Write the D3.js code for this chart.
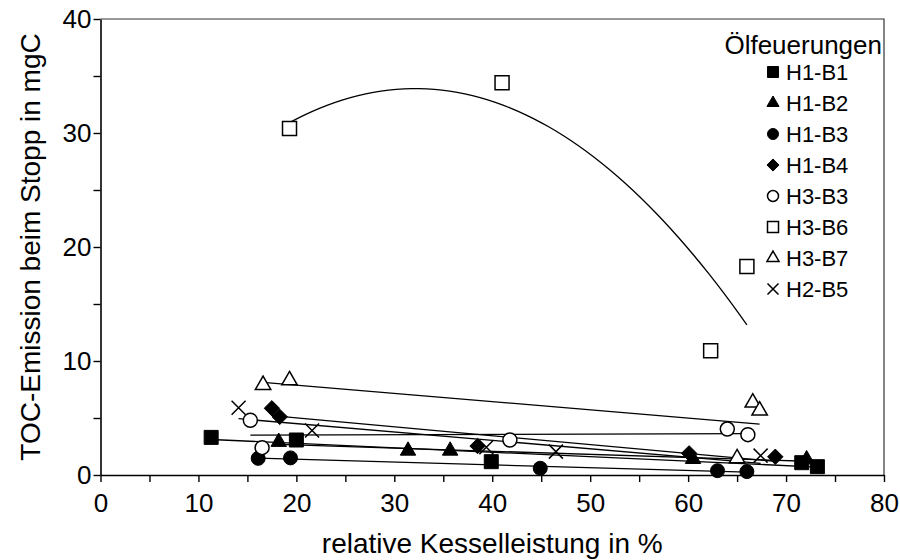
<!DOCTYPE html>
<html>
<head>
<meta charset="utf-8">
<script src="https://cdn.jsdelivr.net/npm/d3@7"></script>
<style>
  body { margin: 0; background: #fff; }
  text { font-family: "Liberation Sans", Arial, sans-serif; fill: #000; }
</style>
</head>
<body>
<div id="chart"></div>
<script>
// measured values, x = relative Kesselleistung (%), y = TOC in mgC
var h1b1X = [11.3, 20.0, 39.9, 71.6, 73.2];
var h1b1Y = [3.3, 3.07, 1.17, 1.08, 0.73];
var h1b2X = [18.2, 31.4, 35.7, 60.5, 72.1];
var h1b2Y = [2.9, 2.13, 2.13, 1.4, 1.37];
var h1b3X = [16.1, 19.4, 44.9, 63.0, 66.0];
var h1b3Y = [1.46, 1.5, 0.59, 0.38, 0.3];
var h1b4X = [17.5, 18.3, 38.5, 60.1, 68.9];
var h1b4Y = [5.85, 5.1, 2.54, 1.9, 1.6];
var h3b3X = [15.3, 16.5, 41.8, 64.0, 66.1];
var h3b3Y = [4.8, 2.4, 3.07, 4.03, 3.54];
var h3b6X = [19.3, 41.0, 62.3, 66.0];
var h3b6Y = [30.4, 34.4, 10.9, 18.3];
var h3b7X = [16.6, 19.3, 65.0, 66.6, 67.3];
var h3b7Y = [7.9, 8.3, 1.46, 6.35, 5.65];
var h2b5X = [14.1, 21.6, 39.4, 46.5, 67.4];
var h2b5Y = [5.9, 3.9, 2.43, 2.05, 1.7];

var seriesNames = ["H1-B1", "H1-B2", "H1-B3", "H1-B4", "H3-B3", "H3-B6", "H3-B7", "H2-B5"];
var xTicks = [0, 10, 20, 30, 40, 50, 60, 70, 80];
var yTicks = [0, 10, 20, 30, 40];
var legendTitle = "Ölfeuerungen";
var xTitle = "relative Kesselleistung in %";
var yTitle = "TOC-Emission beim Stopp in mgC";

var series = [
  { name: seriesNames[0], x: h1b1X, y: h1b1Y, shape: "square", fill: true, fit: 1 },
  { name: seriesNames[1], x: h1b2X, y: h1b2Y, shape: "triangle", fill: true, fit: 1 },
  { name: seriesNames[2], x: h1b3X, y: h1b3Y, shape: "circle", fill: true, fit: 1 },
  { name: seriesNames[3], x: h1b4X, y: h1b4Y, shape: "diamond", fill: true, fit: 1 },
  { name: seriesNames[4], x: h3b3X, y: h3b3Y, shape: "circle", fill: false, fit: 1 },
  { name: seriesNames[5], x: h3b6X, y: h3b6Y, shape: "square", fill: false, fit: 2 },
  { name: seriesNames[6], x: h3b7X, y: h3b7Y, shape: "triangle", fill: false, fit: 1 },
  { name: seriesNames[7], x: h2b5X, y: h2b5Y, shape: "cross", fill: false, fit: 1 }
];

var margin = { top: 19, right: 16, bottom: 85, left: 100.5 },
  width = 900 - margin.left - margin.right,
  height = 560 - margin.top - margin.bottom;

var svg = d3.select("#chart")
  .append("svg")
  .attr("width", 900)
  .attr("height", 560)
  .append("g")
  .attr("transform", "translate(" + margin.left + "," + margin.top + ")");

var x = d3.scaleLinear().domain([0, 80]).range([0, width]);
var y = d3.scaleLinear().domain([0, 40]).range([height, 0]);

// frame (top + right)
svg.append("path")
  .attr("d", "M0,0H" + width + "V" + height)
  .style("fill", "none")
  .style("stroke", "#333")
  .style("stroke-width", 1.2);

// axes: ticks every 5, labels every 10
var xAxis = svg.append("g")
  .attr("transform", "translate(0," + height + ")")
  .call(d3.axisBottom(x).tickValues(d3.range(0, 81, 5)).tickSize(7).tickSizeOuter(0)
    .tickFormat(function (d) { return xTicks.indexOf(d) >= 0 ? d : ""; }));
var yAxis = svg.append("g")
  .call(d3.axisLeft(y).tickValues(d3.range(0, 41, 5)).tickSize(7).tickSizeOuter(0)
    .tickFormat(function (d) { return yTicks.indexOf(d) >= 0 ? d : ""; }));

[xAxis, yAxis].forEach(function (a) {
  a.select(".domain").style("stroke", "#000").style("stroke-width", 1.6);
  a.selectAll(".tick line").style("stroke", "#000").style("stroke-width", 1.4);
  a.selectAll(".tick text").style("font-size", "26px")
    .style("font-family", "'Liberation Sans', Arial, sans-serif");
});
xAxis.selectAll(".tick text").attr("y", 19);
yAxis.selectAll(".tick text").attr("x", -9);

svg.append("text")
  .attr("x", width / 2)
  .attr("y", height + 78)
  .style("text-anchor", "middle")
  .style("font-size", "28px")
  .text(xTitle);

svg.append("text")
  .attr("transform", "translate(" + (-61) + "," + (height / 2) + ") rotate(-90)")
  .style("text-anchor", "middle")
  .style("font-size", "28px")
  .text(yTitle);

// least squares polynomial fit (trend lines as in the original)
function polyFit(xs, ys, deg) {
  var n = deg + 1, A = [], b = [];
  for (var i = 0; i < n; i++) {
    A.push([]);
    for (var j = 0; j < n; j++) A[i].push(d3.sum(xs, function (v) { return Math.pow(v, i + j); }));
    b.push(d3.sum(xs, function (v, k) { return Math.pow(v, i) * ys[k]; }));
  }
  for (var c = 0; c < n; c++) {
    for (var r = c + 1; r < n; r++) {
      var f = A[r][c] / A[c][c];
      for (var k = c; k < n; k++) A[r][k] -= f * A[c][k];
      b[r] -= f * b[c];
    }
  }
  var coef = new Array(n);
  for (var r2 = n - 1; r2 >= 0; r2--) {
    var s = b[r2];
    for (var k2 = r2 + 1; k2 < n; k2++) s -= A[r2][k2] * coef[k2];
    coef[r2] = s / A[r2][r2];
  }
  return function (v) { return d3.sum(coef, function (cf, p) { return cf * Math.pow(v, p); }); };
}

var line = d3.line()
  .x(function (d) { return x(d); });

series.forEach(function (s) {
  var f = polyFit(s.x, s.y, s.fit);
  var ext = d3.extent(s.x);
  var xs = s.fit === 1 ? ext : d3.range(0, 61).map(function (i) { return ext[0] + (ext[1] - ext[0]) * i / 60; });
  svg.append("path")
    .attr("class", "trend")
    .attr("d", line.y(function (d) { return y(f(d)); })(xs))
    .style("fill", "none")
    .style("stroke", "#000")
    .style("stroke-width", 1.3);
});

function symbolPath(shape, size) {
  if (shape === "square") return d3.symbol().type(d3.symbolSquare).size(size * size)();
  if (shape === "circle") return d3.symbol().type(d3.symbolCircle).size(Math.PI * size * size / 4)();
  if (shape === "triangle") return d3.symbol().type(d3.symbolTriangle).size(Math.sqrt(3) / 4 * Math.pow(size * 1.1, 2))();
  if (shape === "diamond") {
    var h = size * 0.55;
    return "M0," + (-h) + "L" + h + ",0L0," + h + "L" + (-h) + ",0Z";
  }
  var c = size / 2;
  return "M" + (-c) + "," + (-c) + "L" + c + "," + c + "M" + (-c) + "," + c + "L" + c + "," + (-c);
}

function drawMarker(g, s, size) {
  g.append("path")
    .attr("d", symbolPath(s.shape, size))
    .style("fill", s.fill ? "#000" : (s.shape === "cross" ? "none" : "#fff"))
    .style("stroke", "#000")
    .style("stroke-width", s.fill ? 1 : 1.5);
}

series.forEach(function (s) {
  svg.selectAll(null)
    .data(s.x.map(function (v, i) { return [v, s.y[i]]; }))
    .enter()
    .append("g")
    .attr("transform", function (d) { return "translate(" + x(d[0]) + "," + y(d[1]) + ")"; })
    .each(function () { drawMarker(d3.select(this), s, 14); });
});

// legend
var legend = svg.append("g")
  .attr("transform", "translate(" + (width - 2) + ",0)");

legend.append("text")
  .attr("x", 0)
  .attr("y", 35)
  .style("text-anchor", "end")
  .style("font-size", "26px")
  .text(legendTitle);

var legendItems = legend.selectAll(".legend-item")
  .data(series)
  .enter().append("g")
  .attr("class", "legend-item")
  .attr("transform", function (d, i) { return "translate(-109," + (53 + i * 31) + ")"; });

legendItems.each(function (d) { drawMarker(d3.select(this), d, 11); });

legendItems.append("text")
  .attr("x", 13)
  .attr("dy", "0.36em")
  .style("font-size", "22px")
  .text(function (d) { return d.name; });
</script>
</body>
</html>
